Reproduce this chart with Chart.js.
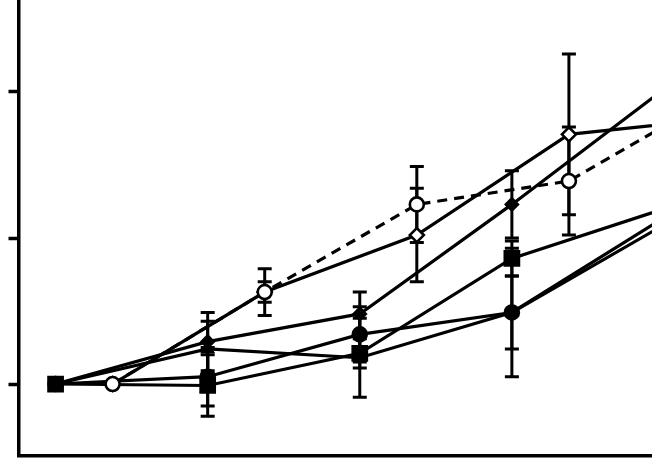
<!DOCTYPE html>
<html>
<head>
<meta charset="utf-8">
<script src="https://cdn.jsdelivr.net/npm/chart.js@4/dist/chart.umd.min.js"></script>
<style>
  html, body { margin: 0; padding: 0; background: #fff; }
  #wrap { position: relative; width: 652px; height: 458px; }
</style>
</head>
<body>
<div id="wrap"><canvas id="chart"></canvas></div>
<script>
const filledDays = [0, 8, 16, 24, 32]
const openDays = [3, 11, 19, 27, 35]
const yTicks = [1, 2, 3]

const filledDiamond = [1.0, 1.29, 1.48, 2.23, 3.02]
const filledDiamondErr = [0, 0.2, 0.15, 0.23, 0.25]
const filledTriangle = [1.0, 1.24, 1.18, 1.49, 2.09]
const filledTriangleErr = [0, 0.19, 0.27, 0.44, 0.3]
const filledCircle = [1.0, 1.05, 1.34, 1.49, 2.14]
const filledCircleErr = [0, 0.2, 0.19, 0.25, 0.3]
const filledSquare = [1.0, 0.99, 1.21, 1.86, 2.2]
const filledSquareErr = [0, 0.21, 0.1, 0.12, 0.2]
const openCircle = [1.0, 1.63, 2.23, 2.39, 2.99]
const openCircleErr = [0, 0.16, 0.26, 0.37, 0.3]
const openDiamond = [1.0, 1.63, 2.02, 2.71, 2.82]
const openDiamondErr = [0, 0.07, 0.32, 0.55, 0.3]

const toPoints = (days, vals, errs) => days.map((d, i) => ({ x: d, y: vals[i], err: errs[i] }))

const series = (data, style, radius, open, dashed) => ({
  data,
  borderColor: "#000",
  borderWidth: 3.2,
  borderDash: dashed ? [10, 7] : [],
  pointStyle: style,
  pointRadius: radius,
  pointBackgroundColor: open ? "#fff" : "#000",
  pointBorderColor: "#000",
  pointBorderWidth: 2.6,
  tension: 0,
  fill: false
})

// vertical error bars with caps, drawn under the markers
const errorBars = {
  id: "errorBars",
  beforeDatasetsDraw(chart) {
    const { ctx, chartArea, scales: { x, y } } = chart
    ctx.save()
    ctx.beginPath()
    ctx.rect(chartArea.left, chartArea.top, chartArea.right - chartArea.left, chartArea.bottom - chartArea.top)
    ctx.clip()
    ctx.strokeStyle = "#000"
    ctx.lineWidth = 3
    chart.data.datasets.forEach(ds => {
      ds.data.forEach(p => {
        if (!p.err) return
        const px = x.getPixelForValue(p.x)
        const top = y.getPixelForValue(p.y + p.err)
        const bot = y.getPixelForValue(p.y - p.err)
        ctx.beginPath()
        ctx.moveTo(px, top); ctx.lineTo(px, bot)
        ctx.moveTo(px - 7, top); ctx.lineTo(px + 7, top)
        ctx.moveTo(px - 7, bot); ctx.lineTo(px + 7, bot)
        ctx.stroke()
      })
    })
    ctx.restore()
  }
}

new Chart(document.getElementById("chart"), {
  type: "line",
  data: {
    datasets: [
      series(toPoints(openDays, openCircle, openCircleErr), "circle", 7, true, true),
      series(toPoints(openDays, openDiamond, openDiamondErr), "rectRot", 7, true, false),
      series(toPoints(filledDays, filledDiamond, filledDiamondErr), "rectRot", 6, false, false),
      series(toPoints(filledDays, filledTriangle, filledTriangleErr), "triangle", 6, false, false),
      series(toPoints(filledDays, filledCircle, filledCircleErr), "circle", 7, false, false),
      series(toPoints(filledDays, filledSquare, filledSquareErr), "rect", 10, false, false)
    ]
  },
  options: {
    responsive: true,
    maintainAspectRatio: false,
    animation: false,
    layout: { autoPadding: false, padding: { left: 8.5, right: 0, top: 0, bottom: 2 } },
    plugins: { legend: { display: false }, tooltip: { enabled: false } },
    scales: {
      x: {
        type: "linear",
        min: -1.95,
        max: 31.37,
        ticks: { display: false },
        grid: { display: false, drawTicks: false },
        border: { color: "#000", width: 3.5 }
      },
      y: {
        type: "linear",
        min: 0.507,
        max: 3.63,
        afterBuildTicks: axis => { axis.ticks = yTicks.map(v => ({ value: v })) },
        ticks: { display: false },
        grid: { drawOnChartArea: false, drawTicks: true, tickLength: 10, tickWidth: 3.5, tickColor: "#000" },
        border: { color: "#000", width: 3.5 }
      }
    }
  },
  plugins: [errorBars]
})
</script>
</body>
</html>
